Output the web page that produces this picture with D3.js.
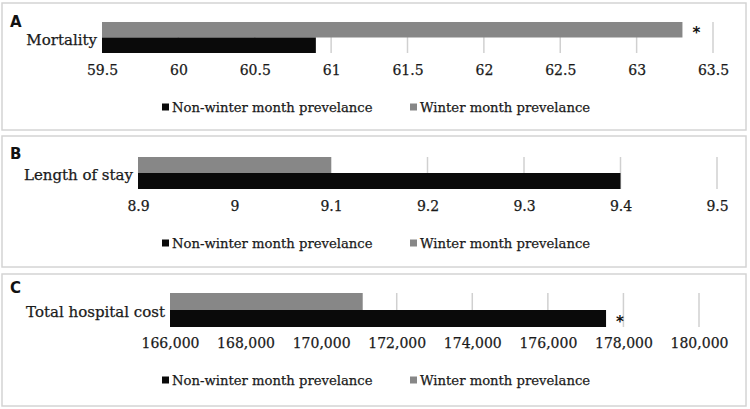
<!DOCTYPE html>
<html><head><meta charset="utf-8">
<script src="https://cdn.jsdelivr.net/npm/d3@7"></script>
<style>body{margin:0;background:#fff}svg{display:block}</style>
</head><body>
<svg id="c" width="750" height="409"></svg>
<script>
const seriesNames = ["Non-winter month prevelance", "Winter month prevelance"];
const panelLetters = ["A", "B", "C"];
const categories = ["Mortality", "Length of stay", "Total hospital cost"];
const winterValues = [63.3, 9.1, 171100];
const nonWinterValues = [60.9, 9.4, 177540];
const significant = [["winter"], [], ["nonwinter"]];
const tickValuesA = [59.5, 60, 60.5, 61, 61.5, 62, 62.5, 63, 63.5];
const tickValuesB = [8.9, 9.0, 9.1, 9.2, 9.3, 9.4, 9.5];
const tickValuesC = [166000, 168000, 170000, 172000, 174000, 176000, 178000, 180000];
const tickSets = [tickValuesA, tickValuesB, tickValuesC];
const tickFormats = [d3.format(""), d3.format(""), d3.format(",")];

const layout = [
  {box:[2,3,744,127], x0:102, x1:713, barTop:22, barH:15.5, tickY:74, legY:107, letterY:22, labelY:40},
  {box:[2,136,744,131], x0:138, x1:717, barTop:157, barH:16, tickY:210, legY:243, letterY:154, labelY:175},
  {box:[2,274,744,132], x0:170, x1:699, barTop:293, barH:17, tickY:347, legY:380, letterY:288, labelY:312}
];
const GRAY = "#878787", BLACK = "#0a0a0a";
const serif = "DejaVu Serif";
const TXT = "#1a1a1a";
const svg = d3.select("#c");

layout.forEach((L, i) => {
  const g = svg.append("g");
  g.append("rect").attr("x", L.box[0]).attr("y", L.box[1]).attr("width", L.box[2]).attr("height", L.box[3])
    .attr("fill", "none").attr("stroke", "#d4d4d4").attr("stroke-width", 1.5);
  const ticks = tickSets[i];
  const x = d3.scaleLinear().domain([ticks[0], ticks[ticks.length-1]]).range([L.x0, L.x1]);
  const gridTop = L.barTop, gridBot = L.barTop + 2*L.barH;
  g.selectAll("line.grid").data(ticks.slice(1)).join("line")
    .attr("x1", d => x(d)).attr("x2", d => x(d)).attr("y1", gridTop).attr("y2", gridBot)
    .attr("stroke", "#d0d0d0").attr("stroke-width", 1.5);
  const axis = d3.axisBottom(x).tickValues(ticks).tickFormat(tickFormats[i]).tickSize(0).tickPadding(0);
  const ag = g.append("g").attr("transform", `translate(0,${L.tickY - 9})`).call(axis);
  ag.select(".domain").remove();
  ag.selectAll("text").attr("font-family", serif).attr("font-size", 14).attr("fill", TXT)
    .attr("stroke", TXT).attr("stroke-width", 0.25);
  const bars = [
    {key:"winter", v: winterValues[i], color: GRAY, y: L.barTop},
    {key:"nonwinter", v: nonWinterValues[i], color: BLACK, y: L.barTop + L.barH}
  ];
  g.selectAll("rect.bar").data(bars).join("rect")
    .attr("x", x(ticks[0])).attr("y", d => d.y)
    .attr("width", d => x(d.v) - x(ticks[0])).attr("height", L.barH).attr("fill", d => d.color);
  bars.filter(d => significant[i].includes(d.key)).forEach(d => {
    g.append("text").attr("x", x(d.v) + 14).attr("y", d.y + L.barH/2 + 8)
      .attr("text-anchor", "middle").attr("font-family", "DejaVu Sans").attr("font-weight", "bold")
      .attr("font-size", 15).attr("fill", "#111").text("*");
  });
  g.append("text").attr("x", L.x0 - 5).attr("y", L.labelY).attr("dy", "0.35em")
    .attr("text-anchor", "end").attr("font-family", serif).attr("font-size", 15).attr("fill", TXT)
    .attr("stroke", TXT).attr("stroke-width", 0.25)
    .text(categories[i]);
  g.append("text").attr("x", 10).attr("y", L.letterY).attr("dy", "0.35em")
    .attr("font-family", "DejaVu Sans").attr("font-weight", "bold").attr("font-size", 15).attr("fill", "#111")
    .text(panelLetters[i]);
  const legItems = [{name: seriesNames[0], color: BLACK, sx: 162}, {name: seriesNames[1], color: GRAY, sx: 410}];
  legItems.forEach(it => {
    g.append("rect").attr("x", it.sx).attr("y", L.legY - 3.5).attr("width", 7).attr("height", 7).attr("fill", it.color);
    g.append("text").attr("x", it.sx + 10).attr("y", L.legY).attr("dy", "0.35em")
      .attr("font-family", serif).attr("font-size", 13.2).attr("fill", TXT)
      .attr("stroke", TXT).attr("stroke-width", 0.25).text(it.name);
  });
});
</script>
</body></html>
